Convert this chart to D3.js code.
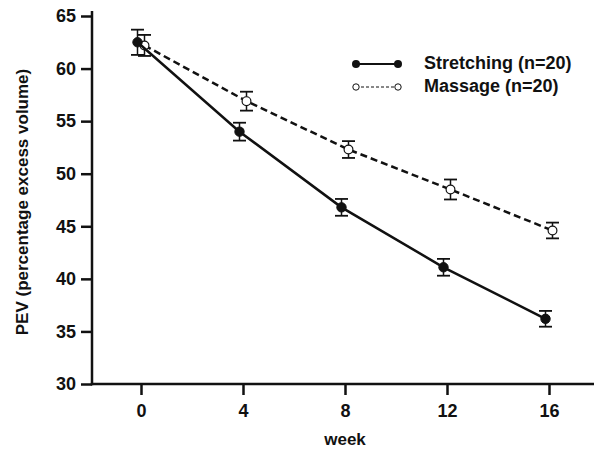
<!DOCTYPE html>
<html>
<head>
<meta charset="utf-8">
<script src="https://cdn.jsdelivr.net/npm/d3@7"></script>
<style>
  html, body { margin: 0; padding: 0; background: #fff; }
  svg { display: block; }
  text { font-family: "Liberation Sans", Arial, sans-serif; font-weight: bold; fill: #111; }
</style>
</head>
<body>
<svg id="chart" width="594" height="454"></svg>
<script>
const weeks = [0, 4, 8, 12, 16];
const stretchingMean = [62.5, 54.0, 46.8, 41.1, 36.2];
const stretchingErr  = [1.2, 0.85, 0.8, 0.8, 0.75];
const massageMean    = [62.2, 56.9, 52.3, 48.5, 44.6];
const massageErr     = [1.0, 0.9, 0.8, 0.95, 0.75];
const xTicks = [0, 4, 8, 12, 16];
const yTicks = [30, 35, 40, 45, 50, 55, 60, 65];
const seriesNames = ["Stretching (n=20)", "Massage (n=20)"];

const svg = d3.select("#chart");
const x = d3.scaleLinear().domain([-2, 18]).range([90, 600]);
const y = d3.scaleLinear().domain([30, 65]).range([384, 16]);
const axisX0 = 92;
const FONT = '"Liberation Sans", Arial, sans-serif';

// Y axis
const gy = svg.append("g").attr("transform", `translate(${axisX0},0)`)
  .call(d3.axisLeft(y).tickValues(yTicks).tickSize(11).tickSizeOuter(0).tickPadding(5));
gy.select(".domain").remove();
gy.selectAll(".tick line").attr("stroke", "#111").attr("stroke-width", 2.5);
gy.selectAll(".tick text").style("font-size", "18px").style("font-family", FONT).style("font-weight", "bold").attr("fill", "#111");
svg.append("line").attr("x1", axisX0).attr("x2", axisX0).attr("y1", 11).attr("y2", y(30) + 1.25)
  .attr("stroke", "#111").attr("stroke-width", 2.5);

// X axis
const gx = svg.append("g").attr("transform", `translate(0,${y(30)})`)
  .call(d3.axisBottom(x).tickValues(xTicks).tickSize(11).tickSizeOuter(0).tickPadding(9));
gx.select(".domain").remove();
gx.selectAll(".tick line").attr("stroke", "#111").attr("stroke-width", 2.5);
gx.selectAll(".tick text").style("font-size", "18px").style("font-family", FONT).style("font-weight", "bold").attr("fill", "#111");
svg.append("line").attr("x1", axisX0 - 1.25).attr("x2", 594).attr("y1", y(30)).attr("y2", y(30))
  .attr("stroke", "#111").attr("stroke-width", 2.5);

// Axis titles
svg.append("text").attr("x", x(8)).attr("y", 445).attr("text-anchor", "middle")
  .style("font-size", "17px").text("week");
svg.append("text").attr("transform", "translate(28,202) rotate(-90)").attr("text-anchor", "middle")
  .style("font-size", "17px").text("PEV (percentage excess volume)");

function drawSeries(means, errs, dx, filled, dashed) {
  const data = weeks.map((w, i) => ({ w, m: means[i], e: errs[i] }));
  const line = d3.line().x(d => x(d.w) + dx).y(d => y(d.m));
  svg.append("path").datum(data).attr("d", line).attr("fill", "none")
    .attr("stroke", "#111").attr("stroke-width", 2.5)
    .attr("stroke-dasharray", dashed ? "7,4" : null);
  const g = svg.append("g");
  data.forEach(d => {
    const cx = x(d.w) + dx;
    g.append("line").attr("x1", cx).attr("x2", cx).attr("y1", y(d.m + d.e)).attr("y2", y(d.m - d.e))
      .attr("stroke", "#111").attr("stroke-width", 1.5);
    [d.m + d.e, d.m - d.e].forEach(v => {
      g.append("line").attr("x1", cx - 6.5).attr("x2", cx + 6.5).attr("y1", y(v)).attr("y2", y(v))
        .attr("stroke", "#111").attr("stroke-width", 1.8);
    });
    g.append("circle").attr("cx", cx).attr("cy", y(d.m)).attr("r", filled ? 4.7 : 4.4)
      .attr("fill", filled ? "#111" : "#fff").attr("stroke", "#111").attr("stroke-width", filled ? 1 : 1.2);
  });
}
drawSeries(massageMean, massageErr, 3.5, false, true);
drawSeries(stretchingMean, stretchingErr, -3.5, true, false);

// Legend
const leg = svg.append("g");
leg.append("line").attr("x1", 356).attr("x2", 398).attr("y1", 64).attr("y2", 64).attr("stroke", "#111").attr("stroke-width", 2);
leg.append("circle").attr("cx", 356).attr("cy", 64).attr("r", 4).attr("fill", "#111");
leg.append("circle").attr("cx", 398).attr("cy", 64).attr("r", 4).attr("fill", "#111");
leg.append("line").attr("x1", 356).attr("x2", 398).attr("y1", 87).attr("y2", 87).attr("stroke", "#111").attr("stroke-width", 1).attr("stroke-dasharray", "3,2");
leg.append("circle").attr("cx", 356).attr("cy", 87).attr("r", 3.2).attr("fill", "#fff").attr("stroke", "#111").attr("stroke-width", 1);
leg.append("circle").attr("cx", 398).attr("cy", 87).attr("r", 3.2).attr("fill", "#fff").attr("stroke", "#111").attr("stroke-width", 1);
leg.append("text").attr("x", 424).attr("y", 69).style("font-size", "18px").text(seriesNames[0]);
leg.append("text").attr("x", 424).attr("y", 92).style("font-size", "18px").text(seriesNames[1]);
</script>
</body>
</html>
